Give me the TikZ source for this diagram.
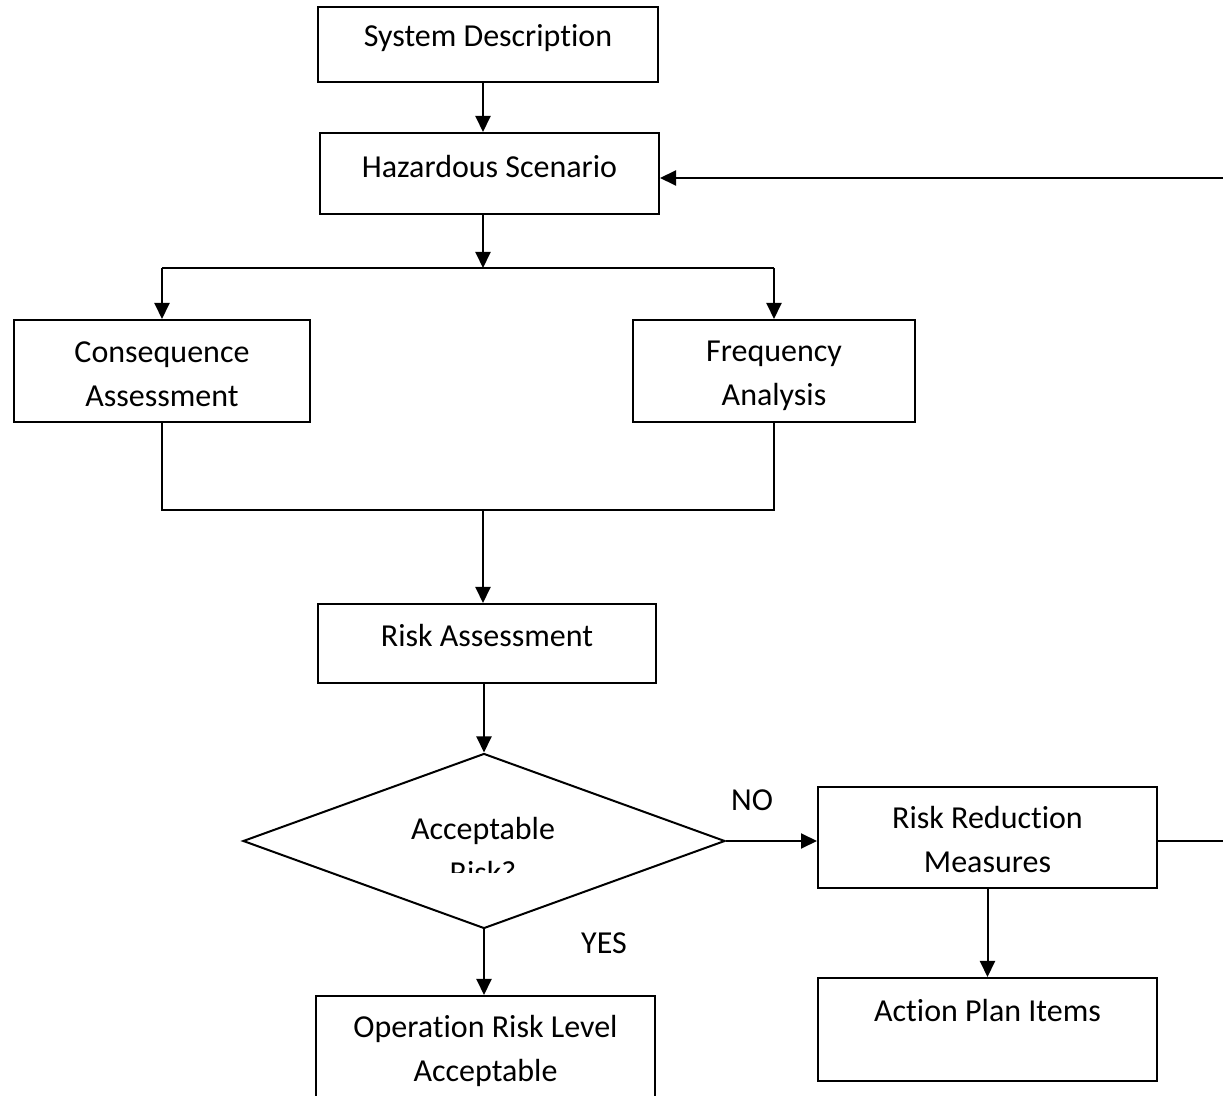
\documentclass[tikz,border=0pt]{standalone}
\usepackage{fontspec}
\setmainfont{Carlito}[RawFeature={-liga;-clig;-calt;-dlig}]
\usetikzlibrary{arrows.meta,shapes.geometric}
\begin{document}
\begin{tikzpicture}[x=0.5pt,y=-0.5pt,
  every node/.style={font=\fontsize{16}{22}\selectfont, inner sep=0pt},
  box/.style={draw, line width=1pt, rectangle},
  txt/.style={align=center},
  conn/.style={line width=1pt},
  arr/.style={line width=1pt, -{Triangle[length=8pt,width=7.5pt]}}]
\useasboundingbox (0,0) rectangle (1223,1096);
% boxes
\node[box, minimum width=170pt, minimum height=37.5pt] (sd) at (488,44.5) {};
\node[txt] (sdt) at (488,38) {System Description};
\node[box, minimum width=169.5pt, minimum height=40.5pt] (hs) at (489.5,173.5) {};
\node[txt] (hst) at (489.5,167) {Hazardous Scenario};
\node[box, minimum width=148pt, minimum height=51pt] (ca) at (162,371) {};
\node[txt] (cat) at (162,374) {Consequence\\Assessment};
\node[box, minimum width=141pt, minimum height=51pt] (fa) at (774,371) {};
\node[txt] (fat) at (774,376) {Frequency\\Analysis};
\node[box, minimum width=169pt, minimum height=39.5pt] (ra) at (487,643.5) {};
\node[txt] (rat) at (487,636) {Risk Assessment};
\node[draw, line width=1pt, diamond, minimum width=241pt, minimum height=87.5pt] (dec) at (484,841) {};
\begin{scope}
\clip (380,790) rectangle (590,873);
\node[txt] (dect) at (483,851) {Acceptable\\Risk?};
\end{scope}
\node[box, minimum width=169.5pt, minimum height=50.5pt] (rrm) at (987.5,837.5) {};
\node[txt] (rrmt) at (987.5,840) {Risk Reduction\\Measures};
\node[box, minimum width=169.5pt, minimum height=51.5pt] (api) at (987.5,1029.5) {};
\node[txt] (apit) at (987.5,1011) {Action Plan Items};
\node[box, minimum width=169.5pt, minimum height=62pt] (orl) at (485.5,1058) {};
\node[txt] (orlt) at (485.5,1051) {Operation Risk Level\\Acceptable};
% labels
\node (no) at (752,800) {NO};
\node (yes) at (604,943) {YES};
% coordinates
\coordinate (split) at (483,268);
\coordinate (join) at (483,510);
\coordinate (fbtop) at (1240,178);
\coordinate (fbbot) at (1240,841);
% connectors
\draw[arr] (sd.south -| split) -- (split |- hs.north);
\draw[arr] (split |- hs.south) -- (split);
\draw[conn] (split) -- (split -| ca.north);
\draw[conn] (split) -- (split -| fa.north);
\draw[arr] (split -| ca.north) -- (ca.north);
\draw[arr] (split -| fa.north) -- (fa.north);
\draw[conn] (ca.south) -- (join -| ca.south) -- (join -| fa.south) -- (fa.south);
\draw[arr] (join) -- (join |- ra.north);
\draw[arr] (ra.south -| dec.north) -- (dec.north);
\draw[arr] (dec.east) -- (dec.east -| rrm.west);
\draw[arr] (dec.south) -- (dec.south |- orl.north);
\draw[arr] (rrm.south) -- (api.north);
\draw[conn] (rrm.east |- fbbot) -- (fbbot) -- (fbtop);
\draw[arr] (fbtop) -- (fbtop -| hs.east);
\end{tikzpicture}
\end{document}
